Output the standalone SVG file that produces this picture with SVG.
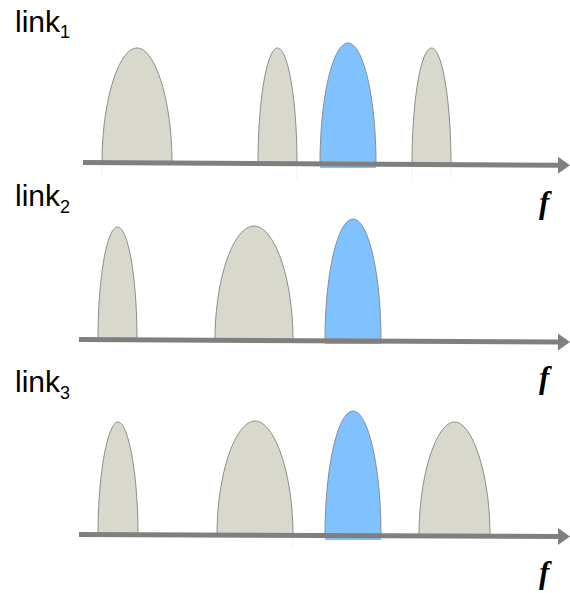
<svg xmlns="http://www.w3.org/2000/svg" width="570" height="593" viewBox="0 0 570 593">
  <style>
    .lobe { fill: #d9d8cc; stroke: #8c8c8c; stroke-width: 1; }
    .sel { fill: #80c1ff; stroke: #8c8c8c; stroke-width: 1; }
    .selfoot { fill: #80c1ff; stroke: none; }
    .axis { fill: none; stroke: #7f7f7f; stroke-width: 5; marker-end: url(#head); }
    .ghost { stroke: #f0f0f0; stroke-width: 1; }
    .lbl { font-family: "Liberation Sans", Arial, sans-serif; font-size: 30px; fill: #000; }
    .sub { font-size: 18px; }
    .f { font-family: "Liberation Serif", "Times New Roman", serif; font-size: 31px; font-weight: bold; font-style: italic; fill: #000; }
  </style>
  <defs>
    <marker id="head" markerUnits="userSpaceOnUse" markerWidth="12" markerHeight="17" refX="0" refY="8.5" orient="auto" overflow="visible">
      <path d="M0,0 L12,8.5 L0,17 Z" fill="#7f7f7f"/>
    </marker>
  </defs>

  <!-- spectrum of link 1 -->
  <g id="link1">
    <text class="lbl" x="15" y="32">link<tspan class="sub" dy="6">1</tspan></text>
    <g id="l1-ch1"><path class="lobe" d="M102,163 C102,100 119,48 137,48 C155,48 172,100 172,163 Z"/></g>
    <g id="l1-ch2"><path class="lobe" d="M258,163.5 C258,100 267,48 277.5,48 C288,48 297,100 297,163.5 Z"/></g>
    <g id="l1-ch3">
      <rect class="selfoot" x="320" y="163" width="56" height="5"/>
      <path class="sel" d="M320,164 C320,97 333,43 348,43 C363,43 376,97 376,164 Z"/>
    </g>
    <g id="l1-ch4"><path class="lobe" d="M412,164.3 C412,100 421,48 431.5,48 C442,48 451,100 451,164.3 Z"/></g>
    <text class="f" x="539" y="213">f</text>
  </g>

  <!-- spectrum of link 2 -->
  <g id="link2">
    <text class="lbl" x="15" y="206">link<tspan class="sub" dy="7">2</tspan></text>
    <g id="l2-ch1"><path class="lobe" d="M98,340 C98,277 107,227 117.5,227 C128,227 137,277 137,340 Z"/></g>
    <g id="l2-ch2"><path class="lobe" d="M215,340.5 C215,277 234,226 254,226 C274,226 293,277 293,340.5 Z"/></g>
    <g id="l2-ch3">
      <rect class="selfoot" x="325" y="340" width="56" height="4"/>
      <path class="sel" d="M325,341 C325,272 338,219 353,219 C368,219 381,272 381,341 Z"/>
    </g>
    <text class="f" x="539" y="388">f</text>
  </g>

  <!-- spectrum of link 3 -->
  <g id="link3">
    <text class="lbl" x="15" y="392">link<tspan class="sub" dy="7">3</tspan></text>
    <g id="l3-ch1"><path class="lobe" d="M98,535 C98,472 108,422 118,422 C128,422 138,472 138,535 Z"/></g>
    <g id="l3-ch2"><path class="lobe" d="M217,535.5 C217,472 236,421 255,421 C274,421 293,472 293,535.5 Z"/></g>
    <g id="l3-ch3">
      <rect class="selfoot" x="325" y="535" width="56" height="5"/>
      <path class="sel" d="M325,536 C325,466 338,411 353,411 C368,411 381,466 381,536 Z"/>
    </g>
    <g id="l3-ch4"><path class="lobe" d="M419,536 C419,473 437,422 454.5,422 C472,422 490,473 490,536 Z"/></g>
    <text class="f" x="539" y="583">f</text>
  </g>

  <!-- frequency axes -->
  <g id="axes">
    <line class="ghost" x1="102" y1="166" x2="102" y2="176"/>
    <line class="ghost" x1="297" y1="167" x2="297" y2="180"/>
    <line class="ghost" x1="412" y1="168" x2="412" y2="178"/>
    <line class="ghost" x1="451" y1="168" x2="451" y2="178"/>
    <line class="ghost" x1="293" y1="539" x2="293" y2="547"/>
    <line class="axis" x1="83" y1="162.5" x2="558" y2="165.2"/>
    <line class="axis" x1="79" y1="339.5" x2="558" y2="342"/>
    <line class="axis" x1="79" y1="534.5" x2="558" y2="536.5"/>
  </g>
</svg>
